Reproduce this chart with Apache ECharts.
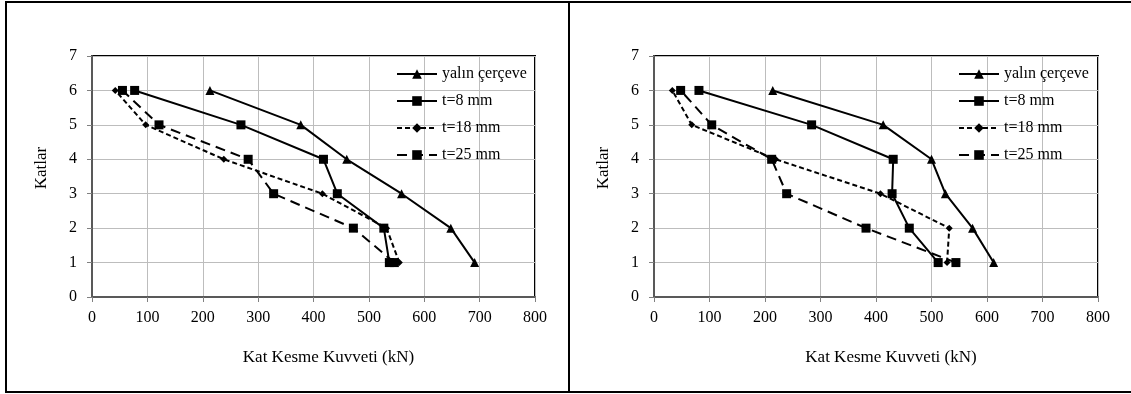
<!DOCTYPE html>
<html>
<head>
<meta charset="utf-8">
<script src="https://cdn.jsdelivr.net/npm/echarts@6/dist/echarts.min.js"></script>
<style>
html,body{margin:0;padding:0;background:#fff;}
#c{width:1131px;height:394px;}
</style>
</head>
<body>
<div id="c"></div>
<script>
// Floors (Katlar)
const floors = [1, 2, 3, 4, 5, 6];
const seriesNames = ['yalın çerçeve', 't=8 mm', 't=18 mm', 't=25 mm'];
// Left chart: story shear (kN) per floor 1..6
const left_yalin = [691, 648, 559, 460, 377, 213];
const left_t8 = [537, 527, 443, 418, 269, 77];
const left_t18 = [555, 532, 416, 238, 97, 42];
const left_t25 = [546, 472, 328, 282, 121, 55];
// Right chart
const right_yalin = [612, 574, 525, 500, 413, 214];
const right_t8 = [512, 460, 429, 431, 284, 81];
const right_t18 = [528, 532, 408, 219, 68, 33];
const right_t25 = [544, 382, 239, 212, 104, 48];
// Axis ticks
const xTicks = [0, 100, 200, 300, 400, 500, 600, 700, 800];
const yTicks = [0, 1, 2, 3, 4, 5, 6, 7];
const xName = 'Kat Kesme Kuvveti (kN)';
const yName = 'Katlar';

const FONT = 'Liberation Serif';
const styles = [
  {symbol: 'triangle', symbolSize: 9, type: 'solid'},
  {symbol: 'rect', symbolSize: 9, type: 'solid'},
  {symbol: 'diamond', symbolSize: 7, type: [5, 3]},
  {symbol: 'rect', symbolSize: 9, type: [10, 6]}
];

function pairs(vals) { return vals.map((v, i) => [v, floors[i]]); }

function makeSeries(sets, idx) {
  return sets.map((vals, k) => ({
    name: seriesNames[k],
    type: 'line',
    xAxisIndex: idx, yAxisIndex: idx,
    data: pairs(vals),
    symbol: styles[k].symbol,
    symbolSize: styles[k].symbolSize,
    showAllSymbol: true,
    lineStyle: {color: '#000', width: 2, type: styles[k].type},
    itemStyle: {color: '#000'},
    emphasis: {disabled: true},
    animation: false
  }));
}

function xAxis(idx) {
  return {
    gridIndex: idx, type: 'value',
    min: xTicks[0], max: xTicks[xTicks.length - 1], interval: xTicks[1] - xTicks[0],
    name: xName, nameLocation: 'middle', nameGap: 52,
    nameTextStyle: {fontFamily: FONT, fontSize: 17, color: '#000', padding: [0, 0, 0, 30]},
    axisLine: {show: true, lineStyle: {color: '#595959', width: 2}},
    axisTick: {show: true, length: 5, lineStyle: {color: '#808080', width: 1}},
    axisLabel: {fontFamily: FONT, fontSize: 16, color: '#000', margin: 13},
    splitLine: {show: true, lineStyle: {color: '#bdbdbd', width: 1}}
  };
}
function yAxis(idx) {
  return {
    gridIndex: idx, type: 'value',
    min: yTicks[0], max: yTicks[yTicks.length - 1], interval: yTicks[1] - yTicks[0],
    name: yName, nameLocation: 'middle', nameGap: 42, nameRotate: 90,
    nameTextStyle: {fontFamily: FONT, fontSize: 17, color: '#000', padding: [0, 0, 0, 17]},
    axisLine: {show: true, lineStyle: {color: '#595959', width: 2}},
    axisTick: {show: true, length: 5, lineStyle: {color: '#808080', width: 1}},
    axisLabel: {fontFamily: FONT, fontSize: 16, color: '#000', margin: 15},
    splitLine: {show: true, lineStyle: {color: '#bdbdbd', width: 1}}
  };
}
function legend(left) {
  return {
    orient: 'vertical', left: left, top: 61,
    itemWidth: 40, itemHeight: 12, itemGap: 11,
    data: seriesNames,
    textStyle: {fontFamily: FONT, fontSize: 16, color: '#000'},
    selectedMode: false
  };
}

const chart = echarts.init(document.getElementById('c'), null, {renderer: 'canvas'});
chart.setOption({
  animation: false,
  backgroundColor: '#fff',
  grid: [
    {left: 92, top: 56, width: 443, height: 241, show: true, borderColor: '#000', borderWidth: 2, backgroundColor: 'transparent'},
    {left: 654, top: 56, width: 444, height: 241, show: true, borderColor: '#000', borderWidth: 2, backgroundColor: 'transparent'}
  ],
  xAxis: [xAxis(0), xAxis(1)],
  yAxis: [yAxis(0), yAxis(1)],
  legend: [legend(391), legend(953)],
  series: makeSeries([left_yalin, left_t8, left_t18, left_t25], 0)
    .concat(makeSeries([right_yalin, right_t8, right_t18, right_t25], 1)),
  graphic: [
    {type: 'polyline', shape: {points: [[1140, 2], [6, 2], [6, 392], [1140, 392]]}, style: {stroke: '#000', lineWidth: 2, fill: null}, silent: true},
    {type: 'line', shape: {x1: 569, y1: 2, x2: 569, y2: 392}, style: {stroke: '#000', lineWidth: 2}, silent: true}
  ]
});
</script>
</body>
</html>
